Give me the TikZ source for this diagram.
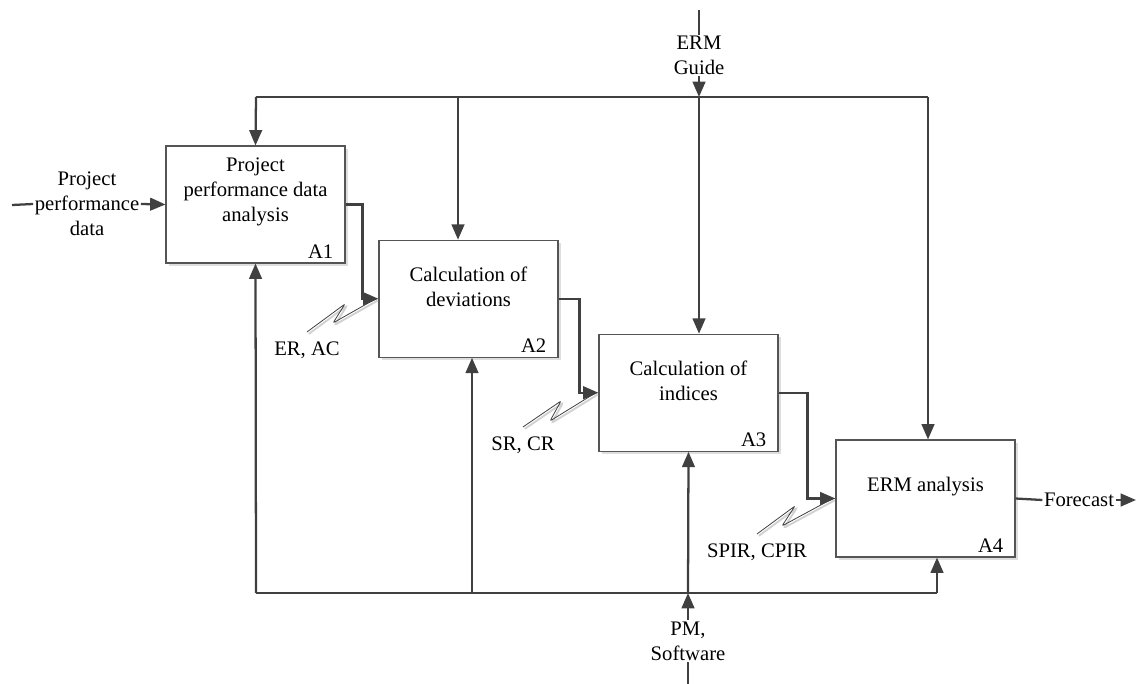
\documentclass[tikz,border=0pt]{standalone}
\usepackage{fontspec}
\setmainfont{Liberation Serif}
\usetikzlibrary{arrows.meta,shadows}
\definecolor{idefline}{HTML}{404040}
\definecolor{idefbox}{HTML}{555555}
\tikzset{
        procbox/.style={draw=idefbox, line width=0.8pt, fill=white, minimum width=134.25pt, minimum height=87.75pt, inner sep=0pt,
                drop shadow={shadow xshift=2.2pt, shadow yshift=-2.2pt, fill=black!13, opacity=1}},
        flow/.style={draw=idefline, line width=1.7pt},
        arr/.style={flow, -{Triangle[length=11.5pt, width=9.5pt]}},
        squig/.style={draw=idefline, line width=0.6pt, rounded corners=1.5pt,
                preaction={draw=black!18, line width=1.4pt, transform canvas={shift={(1.4pt,-1.4pt)}}}},
        txt/.style={align=center, inner sep=1pt, font=\fontsize{15.5}{18.75}\selectfont},
        num/.style={anchor=base east, inner sep=0pt, font=\fontsize{15.5}{18.75}\selectfont}
}
\begin{document}
\begin{tikzpicture}[x=0.75pt, y=-0.75pt]
        \useasboundingbox (0,0) rectangle (1137,684);

        \node[procbox] (a1) at (255.5,204.5) {};
        \node[procbox] (a2) at (468.5,298.75) {};
        \node[procbox] (a3) at (688.5,392.75) {};
        \node[procbox] (a4) at (925.5,498.5) {};

        \node[txt] (t1) at ([yshift=9.3pt]a1.center) {Project\\performance data\\analysis};
        \node[txt] (t2) at ([yshift=9.3pt]a2.center) {Calculation of\\deviations};
        \node[txt] (t3) at ([yshift=9.3pt]a3.center) {Calculation of\\indices};
        \node[txt] (t4) at ([yshift=9pt]a4.center) {ERM analysis};
        \node[num] (n1) at ([shift={(-9pt,4pt)}]a1.south east) {A1};
        \node[num] (n2) at ([shift={(-9pt,4pt)}]a2.south east) {A2};
        \node[num] (n3) at ([shift={(-9pt,4pt)}]a3.south east) {A3};
        \node[num] (n4) at ([shift={(-9pt,4pt)}]a4.south east) {A4};

        \node[txt] (input) at (87,204) {Project\\performance\\data};
        \node[txt] (guide) at (699,55.5) {ERM\\Guide};
        \node[txt] (mech) at (688,641) {PM,\\Software};
        \node[txt] (fcast) at (1079,500) {Forecast};
        \node[txt] (er) at (307,350) {ER, AC};
        \node[txt] (sr) at (523,445) {SR, CR};
        \node[txt] (spir) at (757,552) {SPIR, CPIR};

        \coordinate (in0) at (12,205);
        \coordinate (g0) at (699,10);
        \coordinate (m0) at (688,684);
        \coordinate (out0) at (1136,500);
        \coordinate (c1) at (256,97);
        \coordinate (c2) at (458,97);
        \coordinate (c3) at (699,97);
        \coordinate (c4) at (928,97);
        \coordinate (b1) at (256,593);
        \coordinate (b2) at (472,593);
        \coordinate (b3) at (688,593);
        \coordinate (b4) at (937,593);

        \draw[flow] (in0) -- (input.west);
        \draw[arr] (input.east) -- (a1.west);
        \draw[flow] (g0) -- (g0 |- guide.north);
        \draw[arr] (guide.south) -- (c3);
        \draw[flow] (m0) -- (m0 |- mech.south);
        \draw[arr] (mech.north) -- (b3);
        \draw[flow] (a4.east) -- (fcast.west);
        \draw[arr] (fcast.east) -- (out0);

        \draw[flow] (c1) -- (c4);
        \draw[arr] (c1) -- (a1.north);
        \draw[arr] (c2) -- (c2 |- a2.north);
        \draw[arr] (c3) -- (c3 |- a3.north);
        \draw[arr] (c4) -- (c4 |- a4.north);

        \draw[flow] (b1) -- (b4);
        \draw[arr] (b1) -- (a1.south);
        \draw[arr] (b2) -- (b2 |- a2.south);
        \draw[arr] (b3) -- (a3.south);
        \draw[arr] (b4) -- (b4 |- a4.south);

        \draw[arr] (a1.east) -- ++(17,0) |- (a2.west);
        \draw[arr] (a2.east) -- ++(21,0) |- (a3.west);
        \draw[arr] (a3.east) -- ++(29,0) |- (a4.west);

        \draw[squig] ([yshift=6pt]er.north) -- ++(38,-28) -- ++(-12,19) -- ([xshift=-2pt]a2.west);
        \draw[squig] ([yshift=6pt]sr.north) -- ++(38,-26) -- ++(-11,20) -- ([xshift=-2pt]a3.west);
        \draw[squig] ([yshift=6pt]spir.north) -- ++(38,-28) -- ++(-13,20) -- ([xshift=-2pt]a4.west);
\end{tikzpicture}
\end{document}
